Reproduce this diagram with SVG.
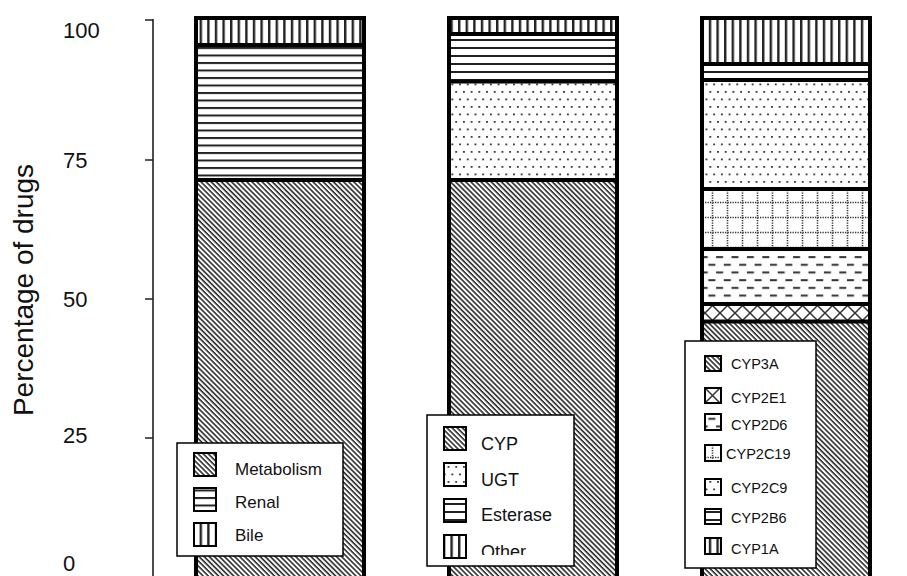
<svg xmlns="http://www.w3.org/2000/svg" width="907" height="576" viewBox="0 0 907 576">
<style>
text{font-family:"Liberation Sans",Arial,sans-serif;fill:#111}
.tick{font-size:22px}
.l1{font-size:17px}
.l2{font-size:18px}
.l3{font-size:14.5px}
.bar{fill:none;stroke:#000;stroke-width:4}
.div{stroke:#000;stroke-width:4}
.sw{stroke:#000;stroke-width:2}
.leg{fill:#fff;stroke:#000;stroke-width:1.5}
.ax{stroke:#222;stroke-width:1.6;fill:none}
</style>
<defs>
<pattern id="pDiag" width="3.6" height="3.6" patternUnits="userSpaceOnUse" patternTransform="rotate(45)">
<rect width="3.6" height="3.6" fill="#fff"/><rect width="3.6" height="1.6" fill="#2a2a2a"/>
</pattern>
<pattern id="pH" width="10" height="7.5" patternUnits="userSpaceOnUse" y="2">
<rect width="10" height="7.5" fill="#fff"/><rect width="10" height="2" fill="#222"/>
</pattern>
<pattern id="pH8" width="10" height="8" patternUnits="userSpaceOnUse" y="7">
<rect width="10" height="8" fill="#fff"/><rect width="10" height="2" fill="#222"/>
</pattern>
<pattern id="pV" width="7.6" height="10" patternUnits="userSpaceOnUse" x="2">
<rect width="7.6" height="10" fill="#fff"/><rect width="2.4" height="10" fill="#222"/>
</pattern>
<pattern id="pDots" width="7.7" height="15" patternUnits="userSpaceOnUse">
<rect width="7.7" height="15" fill="#fff"/><rect x="1" y="1" width="1.8" height="1.8" fill="#333"/><rect x="4.85" y="8.5" width="1.8" height="1.8" fill="#333"/>
</pattern>
<pattern id="pGrid" width="15" height="15" patternUnits="userSpaceOnUse">
<rect width="15" height="15" fill="#fff"/>
<line x1="0" y1="7.5" x2="15" y2="7.5" stroke="#333" stroke-width="1.6" stroke-dasharray="1.3 1.2"/>
<line x1="7.5" y1="0" x2="7.5" y2="15" stroke="#333" stroke-width="1.6" stroke-dasharray="1.3 1.2"/>
</pattern>
<pattern id="pDash" width="15.4" height="15.4" patternUnits="userSpaceOnUse" y="-1">
<rect width="15.4" height="15.4" fill="#fff"/><rect x="0" y="3" width="7" height="2" fill="#333"/><rect x="7.7" y="10.7" width="7" height="2" fill="#333"/>
</pattern>
<pattern id="pCross" width="15" height="15" patternUnits="userSpaceOnUse" y="-2">
<rect width="15" height="15" fill="#fff"/>
<path d="M-1,-1 L16,16 M16,-1 L-1,16" stroke="#333" stroke-width="1.5"/>
</pattern>
<clipPath id="clipOther"><rect x="427" y="415" width="147" height="140"/></clipPath>
</defs>

<g id="axis">
<path class="ax" d="M153,19 V576 M145,20 H153 M145,160 H153 M145,299 H153 M145,438 H153"/>
<text class="tick" x="63" y="38">100</text>
<text class="tick" x="63" y="168">75</text>
<text class="tick" x="63" y="307">50</text>
<text class="tick" x="63" y="443">25</text>
<text class="tick" x="63" y="571">0</text>
<text x="33" y="290" transform="rotate(-90 33 290)" text-anchor="middle" font-size="28">Percentage of drugs</text>
</g>

<g id="bar-elimination">
<rect x="196" y="18" width="168" height="27" fill="url(#pV)"/>
<rect x="196" y="45" width="168" height="135" fill="url(#pH)"/>
<rect x="196" y="180" width="168" height="410" fill="url(#pDiag)"/>
<line class="div" x1="196" y1="45" x2="364" y2="45"/>
<line class="div" x1="196" y1="180" x2="364" y2="180"/>
<rect class="bar" x="196" y="18" width="168" height="572"/>
</g>

<g id="bar-metabolism">
<rect x="449" y="18" width="168" height="16" fill="url(#pV)"/>
<rect x="449" y="34" width="168" height="47.5" fill="url(#pH8)"/>
<rect x="449" y="81.5" width="168" height="98.5" fill="url(#pDots)"/>
<rect x="449" y="180" width="168" height="410" fill="url(#pDiag)"/>
<line class="div" x1="449" y1="34" x2="617" y2="34"/>
<line class="div" x1="449" y1="81.5" x2="617" y2="81.5"/>
<line class="div" x1="449" y1="180" x2="617" y2="180"/>
<rect class="bar" x="449" y="18" width="168" height="572"/>
</g>

<g id="bar-cyp">
<rect x="702" y="18" width="168" height="46" fill="url(#pV)"/>
<rect x="702" y="64" width="168" height="16" fill="url(#pH8)"/>
<rect x="702" y="80" width="168" height="109" fill="url(#pDots)"/>
<rect x="702" y="189" width="168" height="60" fill="url(#pGrid)"/>
<rect x="702" y="249" width="168" height="55" fill="url(#pDash)"/>
<rect x="702" y="304" width="168" height="17.5" fill="url(#pCross)"/>
<rect x="702" y="321.5" width="168" height="268.5" fill="url(#pDiag)"/>
<line class="div" x1="702" y1="64" x2="870" y2="64"/>
<line class="div" x1="702" y1="80" x2="870" y2="80"/>
<line class="div" x1="702" y1="189" x2="870" y2="189"/>
<line class="div" x1="702" y1="249" x2="870" y2="249"/>
<line class="div" x1="702" y1="304" x2="870" y2="304"/>
<line class="div" x1="702" y1="321.5" x2="870" y2="321.5"/>
<rect class="bar" x="702" y="18" width="168" height="572"/>
</g>

<g id="legend-elimination">
<rect class="leg" x="177" y="443" width="166" height="113"/>
<rect class="sw" x="194" y="453" width="22" height="23" fill="url(#pDiag)"/>
<rect class="sw" x="194" y="488" width="22" height="23" fill="url(#pH)"/>
<rect class="sw" x="194" y="523" width="22" height="23" fill="url(#pV)"/>
<text class="l1" x="235" y="475">Metabolism</text>
<text class="l1" x="235" y="508">Renal</text>
<text class="l1" x="235" y="541">Bile</text>
</g>

<g id="legend-metabolism">
<rect class="leg" x="427" y="415" width="147" height="151"/>
<rect class="sw" x="444" y="427" width="22" height="23" fill="url(#pDiag)"/>
<rect class="sw" x="444" y="463" width="22" height="23" fill="url(#pDots)"/>
<rect class="sw" x="444" y="499" width="22" height="23" fill="url(#pH8)"/>
<rect class="sw" x="444" y="535" width="22" height="23" fill="url(#pV)"/>
<text class="l2" x="481" y="450">CYP</text>
<text class="l2" x="481" y="486">UGT</text>
<text class="l2" x="481" y="521">Esterase</text>
<text class="l2" x="481" y="558" clip-path="url(#clipOther)">Other</text>
</g>

<g id="legend-cyp">
<rect class="leg" x="685" y="341" width="131" height="227"/>
<rect class="sw" x="705" y="356" width="16" height="15" fill="url(#pDiag)"/>
<rect class="sw" x="705" y="388" width="16" height="15" fill="url(#pCross)"/>
<rect class="sw" x="705" y="414" width="16" height="16" fill="url(#pDash)"/>
<rect class="sw" x="705" y="445" width="16" height="16" fill="url(#pGrid)"/>
<rect class="sw" x="705" y="479" width="16" height="16" fill="url(#pDots)"/>
<rect class="sw" x="705" y="509" width="16" height="15" fill="url(#pH8)"/>
<rect class="sw" x="705" y="538" width="16" height="16" fill="url(#pV)"/>
<text class="l3" x="731" y="369">CYP3A</text>
<text class="l3" x="731" y="403">CYP2E1</text>
<text class="l3" x="731" y="430">CYP2D6</text>
<text class="l3" x="726" y="459">CYP2C19</text>
<text class="l3" x="731" y="493">CYP2C9</text>
<text class="l3" x="731" y="523">CYP2B6</text>
<text class="l3" x="731" y="554">CYP1A</text>
</g>
</svg>
